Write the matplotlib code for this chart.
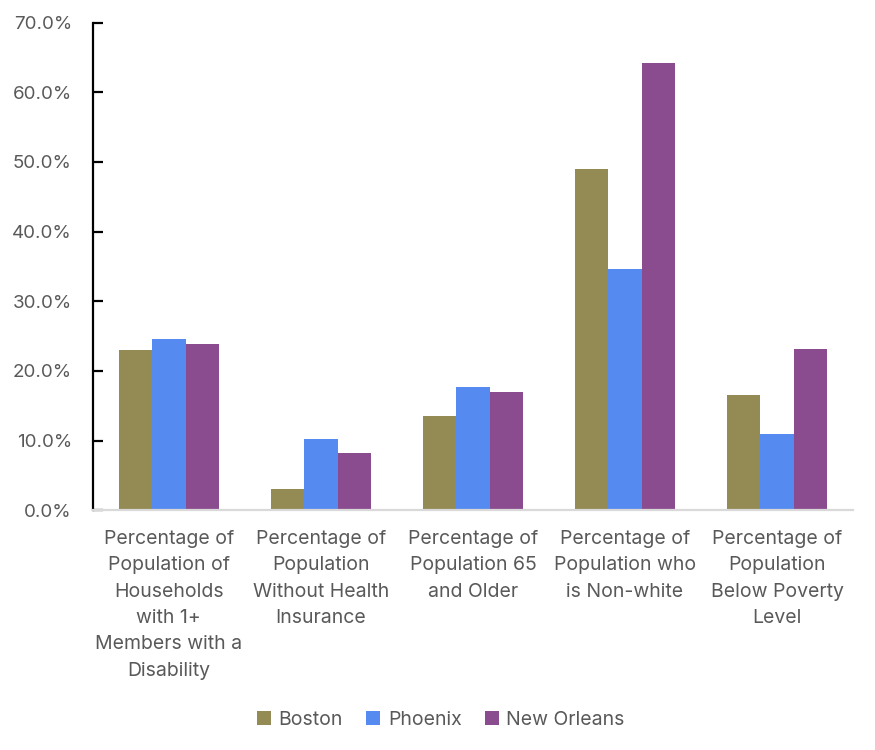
import matplotlib.pyplot as plt
import numpy as np
from matplotlib.ticker import FuncFormatter

plt.rcParams['font.family'] = ['Inter', 'DejaVu Sans']

categories = [
    "Percentage of\nPopulation of\nHouseholds\nwith 1+\nMembers with a\nDisability",
    "Percentage of\nPopulation\nWithout Health\nInsurance",
    "Percentage of\nPopulation 65\nand Older",
    "Percentage of\nPopulation who\nis Non-white",
    "Percentage of\nPopulation\nBelow Poverty\nLevel",
]
series_names = ["Boston", "Phoenix", "New Orleans"]
boston = [23.0, 3.1, 13.5, 49.0, 16.5]
phoenix = [24.6, 10.2, 17.7, 34.6, 10.9]
new_orleans = [23.8, 8.2, 17.0, 64.2, 23.1]
colors = ["#948A54", "#558BF0", "#8A4B8F"]
text_color = "#595959"

fig = plt.figure(figsize=(8.75, 7.5), dpi=100)
ax = fig.add_axes([0.106, 0.3196, 0.869, 0.6504])

x = np.arange(len(categories))
w = 0.22
for i, (vals, name) in enumerate(zip([boston, phoenix, new_orleans], series_names)):
    ax.bar(x + (i - 1) * w, vals, width=w, color=colors[i], label=name, zorder=2)

ax.set_xlim(-0.5, len(categories) - 0.5)
ax.set_ylim(0, 70)
ax.set_yticks(np.arange(0, 71, 10))
ax.yaxis.set_major_formatter(FuncFormatter(lambda v, p: f"{v:.1f}%"))
ax.set_xticks(x)
ax.set_xticklabels(categories, linespacing=1.6)

for s in ['top', 'right']:
    ax.spines[s].set_visible(False)
ax.spines['left'].set_color('black')
ax.spines['left'].set_linewidth(1.6)
ax.spines['bottom'].set_color('#D9D9D9')
ax.spines['bottom'].set_linewidth(1.6)
ax.spines['bottom'].set_zorder(3)

ax.tick_params(axis='y', direction='in', length=7, width=1.6, color='black',
               labelsize=13.5, labelcolor=text_color, pad=15)
ax.tick_params(axis='x', length=0, labelsize=14, labelcolor=text_color, pad=14)

ax.legend(loc='center', bbox_to_anchor=(0.458, -0.43), ncol=3, frameon=False,
          fontsize=14, labelcolor=text_color, handlelength=0.7, handleheight=0.7,
          handletextpad=0.4, columnspacing=1.2)

fig.savefig("out.png", dpi=100)
